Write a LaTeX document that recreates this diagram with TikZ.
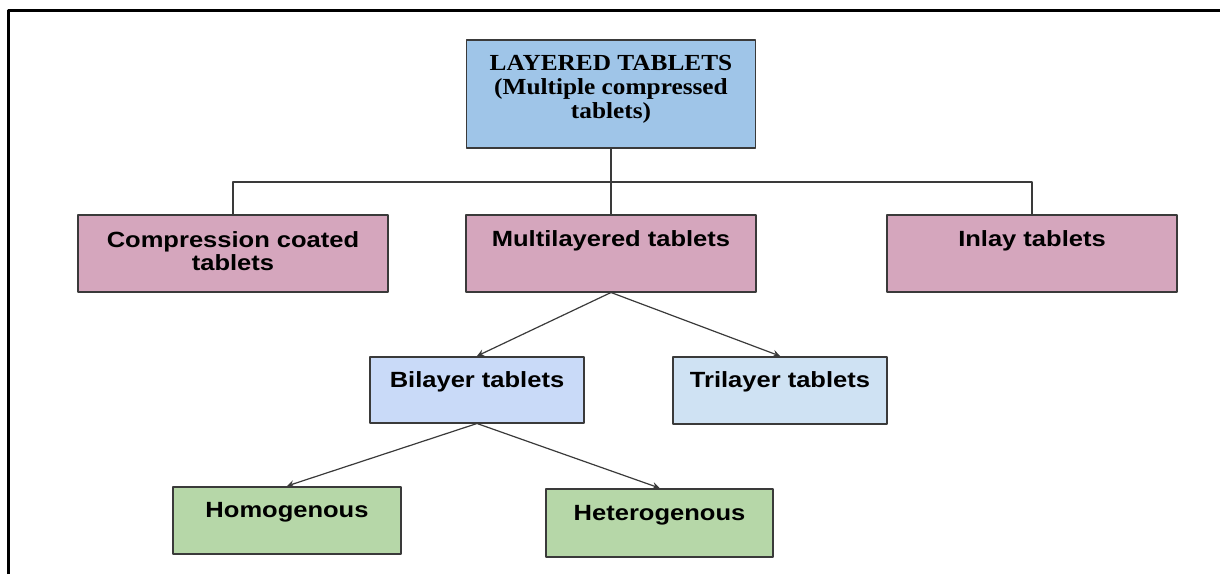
\documentclass[tikz,border=0pt]{standalone}
\usepackage{fontspec}
\setmainfont{Liberation Serif}[FakeStretch=1.1]
\setsansfont{Liberation Sans}[FakeStretch=1.16]
\definecolor{edge}{HTML}{3A3A3A}
\definecolor{topblue}{HTML}{9FC5E8}
\definecolor{pink}{HTML}{D5A6BD}
\definecolor{biblue}{HTML}{C9DAF8}
\definecolor{triblue}{HTML}{CFE2F3}
\definecolor{green}{HTML}{B6D7A8}
\begin{document}
\begin{tikzpicture}[x=0.5pt,y=-0.5pt,line join=round,>=stealth,
	box/.style={draw=edge,line width=0.75pt,inner sep=0pt,anchor=north,align=center,
		font=\sffamily\bfseries\fontsize{11}{11.5}\selectfont},
	link/.style={draw=edge,line width=0.6pt}]
	\useasboundingbox (0,0) rectangle (1220,574);
	\draw[line width=1.5pt] (8.5,574)--(8.5,10)--(1220,10);
	% top
	\node[box,fill=topblue,font=\rmfamily\bfseries\fontsize{11.5}{12}\selectfont,
		minimum width=144.5pt,text height=39.5pt,text depth=14.5pt]
		(LT) at (611,39) {LAYERED TABLETS\\(Multiple compressed\\tablets)};
	% second row
	\node[box,fill=pink,minimum width=155pt,text height=28pt,text depth=10.5pt]
		(CC) at (233,214) {Compression coated\\tablets};
	\node[box,fill=pink,minimum width=145pt,text height=16pt,text depth=22.5pt]
		(ML) at (611,214) {Multilayered tablets};
	\node[box,fill=pink,minimum width=145pt,text height=16pt,text depth=22.5pt]
		(IT) at (1032,214) {Inlay tablets};
	% third row
	\node[box,fill=biblue,minimum width=107pt,text height=15.5pt,text depth=17.5pt]
		(BT) at (477,356) {Bilayer tablets};
	\node[box,fill=triblue,minimum width=107pt,text height=15.5pt,text depth=18pt]
		(TT) at (780,356) {Trilayer tablets};
	% bottom row
	\node[box,fill=green,minimum width=114pt,text height=15.5pt,text depth=18pt]
		(HO) at (287,486) {Homogenous};
	\node[box,fill=green,minimum width=113.5pt,text height=16pt,text depth=18pt]
		(HE) at (659.5,488) {Heterogenous};
	\draw[link] (LT.south)--(ML.north);
	\draw[link] (CC.north)--++(0,-32) -| (IT.north);
	\draw[link,->] (ML.south)--(BT.north);
	\draw[link,->] (ML.south)--(TT.north);
	\draw[link,->] (BT.south)--(HO.north);
	\draw[link,->] (BT.south)--(HE.north);
\end{tikzpicture}
\end{document}
